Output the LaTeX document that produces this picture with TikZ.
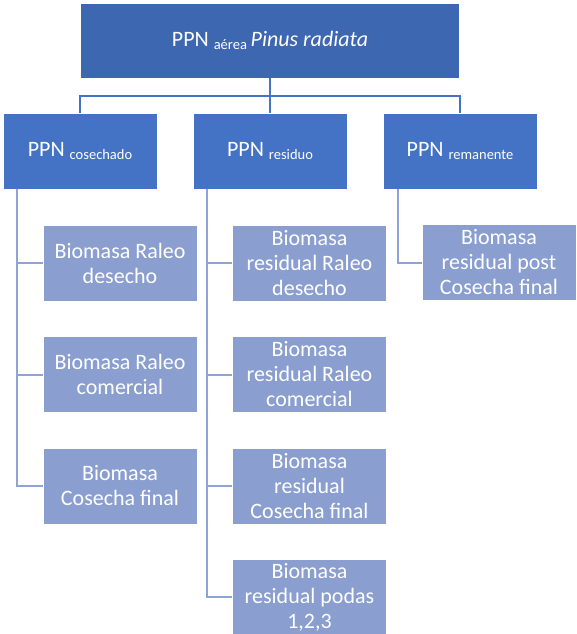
\documentclass[tikz,border=0pt]{standalone}
\usepackage{fontspec}
\setmainfont{Carlito}
\usepackage{tikz}
\usetikzlibrary{positioning}

\definecolor{topblue}{RGB}{61,103,177}
\definecolor{midblue}{RGB}{68,114,196}
\definecolor{lowblue}{RGB}{138,158,208}
\definecolor{lowline}{RGB}{143,164,214}

\newcommand{\subtxt}[1]{\raisebox{-0.3ex}{\fontsize{14.5}{16}\selectfont #1}}

\tikzset{
	topbox/.style={fill=topblue, draw=white, line width=0.8pt, text=white, minimum width=379pt, minimum height=75pt, inner sep=2pt, font=\fontsize{22}{26}\selectfont},
	midbox/.style={fill=midblue, draw=white, line width=0.8pt, text=white, minimum width=154pt, minimum height=76pt, inner sep=2pt, font=\fontsize{22}{26}\selectfont},
	lowbox/.style={fill=lowblue, draw=white, line width=0.8pt, text=white, minimum width=154pt, minimum height=76pt, inner sep=2pt, align=center, font=\fontsize{22}{25}\selectfont},
	bus/.style={draw=midblue, line width=2pt},
	twig/.style={draw=lowline, line width=2pt}
}

\begin{document}
\begin{tikzpicture}[x=1pt, y=-1pt]
		\useasboundingbox (0,0) rectangle (576,634);

		\node[topbox] (aerea) at (270,40.5) {PPN \subtxt{aérea}\,\textit{Pinus radiata}};

		\node[midbox] (cosechado) at (80,151) {PPN \subtxt{cosechado}};
		\node[midbox] (residuo) at (270,151) {PPN \subtxt{residuo}};
		\node[midbox] (remanente) at (460,151) {PPN \subtxt{remanente}};

		\node[lowbox] (raleodes) at (120,263) {Biomasa Raleo\\desecho};
		\node[lowbox] (raleocom) at (120,374.5) {Biomasa Raleo\\comercial};
		\node[lowbox] (cosfinal) at (120,486) {Biomasa\\Cosecha final};

		\node[lowbox] (resraleodes) at (309.5,263) {Biomasa\\residual Raleo\\desecho};
		\node[lowbox] (resraleocom) at (309.5,374.5) {Biomasa\\residual Raleo\\comercial};
		\node[lowbox] (rescosfinal) at (309.5,486) {Biomasa\\residual\\Cosecha final};
		\node[lowbox] (respodas) at (309.5,597) {Biomasa\\residual podas\\1,2,3};

		\node[lowbox] (postcos) at (499,262.5) {Biomasa\\residual post\\Cosecha final};

		\draw[bus] (aerea.south) -- ++(0,18) -| (cosechado.north);
		\draw[bus] (aerea.south) -- ++(0,18) -| (remanente.north);
		\draw[bus] (aerea.south) -- (residuo.north);

		\draw[twig] ([xshift=14pt]cosechado.south west) |- (raleodes.west);
		\draw[twig] ([xshift=14pt]cosechado.south west) |- (raleocom.west);
		\draw[twig] ([xshift=14pt]cosechado.south west) |- (cosfinal.west);

		\draw[twig] ([xshift=14pt]residuo.south west) |- (resraleodes.west);
		\draw[twig] ([xshift=14pt]residuo.south west) |- (resraleocom.west);
		\draw[twig] ([xshift=14pt]residuo.south west) |- (rescosfinal.west);
		\draw[twig] ([xshift=14pt]residuo.south west) |- (respodas.west);

		\draw[twig] ([xshift=15pt]remanente.south west) |- (postcos.west);

\end{tikzpicture}
\end{document}
